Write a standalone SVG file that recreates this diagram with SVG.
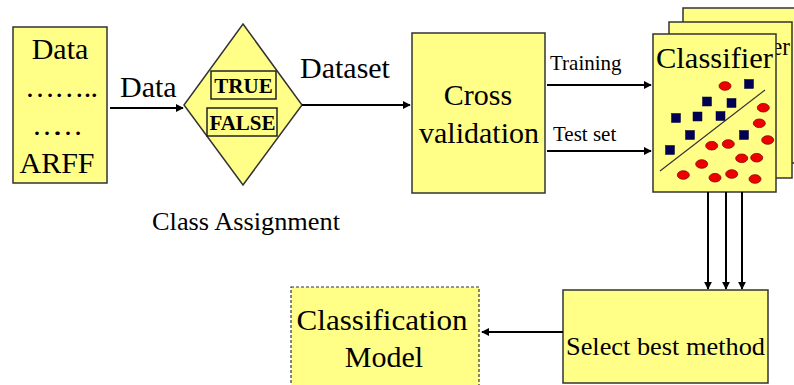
<svg xmlns="http://www.w3.org/2000/svg" width="794" height="385" viewBox="0 0 794 385">
<defs>
<style>
.box{fill:#FFFF88;stroke:#333;stroke-width:1.5}
.t{fill:#000}
.big{font-size:30px}
.mid{font-size:21px}
.bold{font-weight:bold}
.conn{stroke:#000;stroke-width:2;fill:none}
.sq{fill:#000055;stroke:#000033;stroke-width:0.5}
.dot{fill:#EE0000;stroke:#880000;stroke-width:0.8}
</style>
<marker id="ah" viewBox="0 0 10 10" refX="9" refY="5" markerWidth="4" markerHeight="4" orient="auto" markerUnits="strokeWidth">
<path d="M0,0 L10,5 L0,10 z" fill="#000"/>
</marker>
</defs>
<rect width="794" height="385" fill="#fff"/>
<g font-family="'Liberation Serif', 'Times New Roman', 'DejaVu Serif', serif">
<g id="data">
<rect class="box" x="13" y="27" width="94" height="156"/>
<text class="t big" x="60" y="59" text-anchor="middle">Data</text>
<text class="t big" x="25" y="97" textLength="73" lengthAdjust="spacing">……..</text>
<text class="t big" x="32" y="135" textLength="51" lengthAdjust="spacing">… …</text>
<text class="t big" x="57" y="173" text-anchor="middle">ARFF</text>
</g>

<g id="class-assignment">
<polygon class="box" points="243,24 302,105 243,185 184,105"/>
<rect x="211" y="71" width="65" height="28" fill="none" stroke="#222" stroke-width="1.5"/>
<text class="t mid bold" x="243.5" y="93" text-anchor="middle">TRUE</text>
<rect x="207" y="108" width="70" height="28" fill="none" stroke="#222" stroke-width="1.5"/>
<text class="t mid bold" x="242.5" y="130" text-anchor="middle">FALSE</text>
<text class="t" style="font-size:25px" x="152" y="230" textLength="188" lengthAdjust="spacingAndGlyphs">Class Assignment</text>
</g>

<g id="cross-validation">
<rect class="box" x="412" y="33" width="133" height="160"/>
<text class="t big" x="478" y="105" text-anchor="middle">Cross</text>
<text class="t big" x="479" y="143" text-anchor="middle">validation</text>
</g>

<g id="classifier">
<rect class="box" x="683" y="8" width="123" height="155"/>
<rect class="box" x="669" y="22" width="123" height="156"/>
<text class="t" style="font-size:26px" x="772" y="55" textLength="18" lengthAdjust="spacingAndGlyphs">er</text>
<rect class="box" x="653" y="34" width="123" height="158"/>
<text class="t big" x="656" y="68" textLength="117" lengthAdjust="spacingAndGlyphs">Classifier</text>
<line x1="660" y1="171" x2="765" y2="90" stroke="#333" stroke-width="1.2"/>
<rect class="sq" x="744.5" y="79.5" width="9" height="9"/>
<rect class="sq" x="702.5" y="97" width="9" height="9"/>
<rect class="sq" x="727" y="98.5" width="9" height="9"/>
<rect class="sq" x="671.5" y="113.5" width="9" height="9"/>
<rect class="sq" x="693" y="112" width="9" height="9"/>
<rect class="sq" x="716" y="111.5" width="9" height="9"/>
<rect class="sq" x="685.5" y="130.5" width="9" height="9"/>
<rect class="sq" x="739.5" y="130.5" width="9" height="9"/>
<rect class="sq" x="665.5" y="145.5" width="9" height="9"/>
<ellipse class="dot" cx="725" cy="86" rx="6" ry="4.3"/>
<ellipse class="dot" cx="763.3" cy="107.7" rx="6" ry="4.3"/>
<ellipse class="dot" cx="759.3" cy="123.3" rx="6" ry="4.3"/>
<ellipse class="dot" cx="767.7" cy="140" rx="6" ry="4.3"/>
<ellipse class="dot" cx="711.7" cy="145.7" rx="6" ry="4.3"/>
<ellipse class="dot" cx="728.3" cy="144" rx="6" ry="4.3"/>
<ellipse class="dot" cx="741.7" cy="158.3" rx="6" ry="4.3"/>
<ellipse class="dot" cx="756.7" cy="157.7" rx="6" ry="4.3"/>
<ellipse class="dot" cx="701.7" cy="164" rx="6" ry="4.3"/>
<ellipse class="dot" cx="683.3" cy="175" rx="6" ry="4.3"/>
<ellipse class="dot" cx="715" cy="177.7" rx="6" ry="4.3"/>
<ellipse class="dot" cx="731.7" cy="174" rx="6" ry="4.3"/>
<ellipse class="dot" cx="755" cy="179" rx="6" ry="4.3"/>
</g>

<g id="select-best">
<rect class="box" x="563" y="290" width="205" height="93"/>
<text class="t" style="font-size:26px" x="665.5" y="355" text-anchor="middle" textLength="199" lengthAdjust="spacingAndGlyphs">Select best method</text>
</g>

<g id="classification-model">
<rect x="291" y="287" width="188" height="110" fill="#FFFF88" stroke="#333" stroke-width="1.2" stroke-dasharray="3,2"/>
<text class="t big" x="382" y="330" text-anchor="middle" textLength="171" lengthAdjust="spacingAndGlyphs">Classification</text>
<text class="t big" x="384" y="367" text-anchor="middle">Model</text>
</g>

<g id="connectors">
<line class="conn" x1="110" y1="108" x2="183" y2="108" marker-end="url(#ah)"/>
<text class="t big" x="120" y="97">Data</text>
<line class="conn" x1="302" y1="105" x2="410" y2="105" marker-end="url(#ah)"/>
<text class="t big" x="300" y="78">Dataset</text>
<line class="conn" x1="547" y1="85" x2="651" y2="85" marker-end="url(#ah)"/>
<text class="t mid" x="550" y="70">Training</text>
<line class="conn" x1="547" y1="151" x2="651" y2="151" marker-end="url(#ah)"/>
<text class="t mid" x="553" y="141">Test set</text>
<line class="conn" x1="708" y1="192" x2="708" y2="289" marker-end="url(#ah)"/>
<line class="conn" x1="726" y1="192" x2="726" y2="289" marker-end="url(#ah)"/>
<line class="conn" x1="742" y1="192" x2="742" y2="289" marker-end="url(#ah)"/>
<line class="conn" x1="563" y1="332" x2="482" y2="332" marker-end="url(#ah)"/>
</g>
</g>
</svg>
